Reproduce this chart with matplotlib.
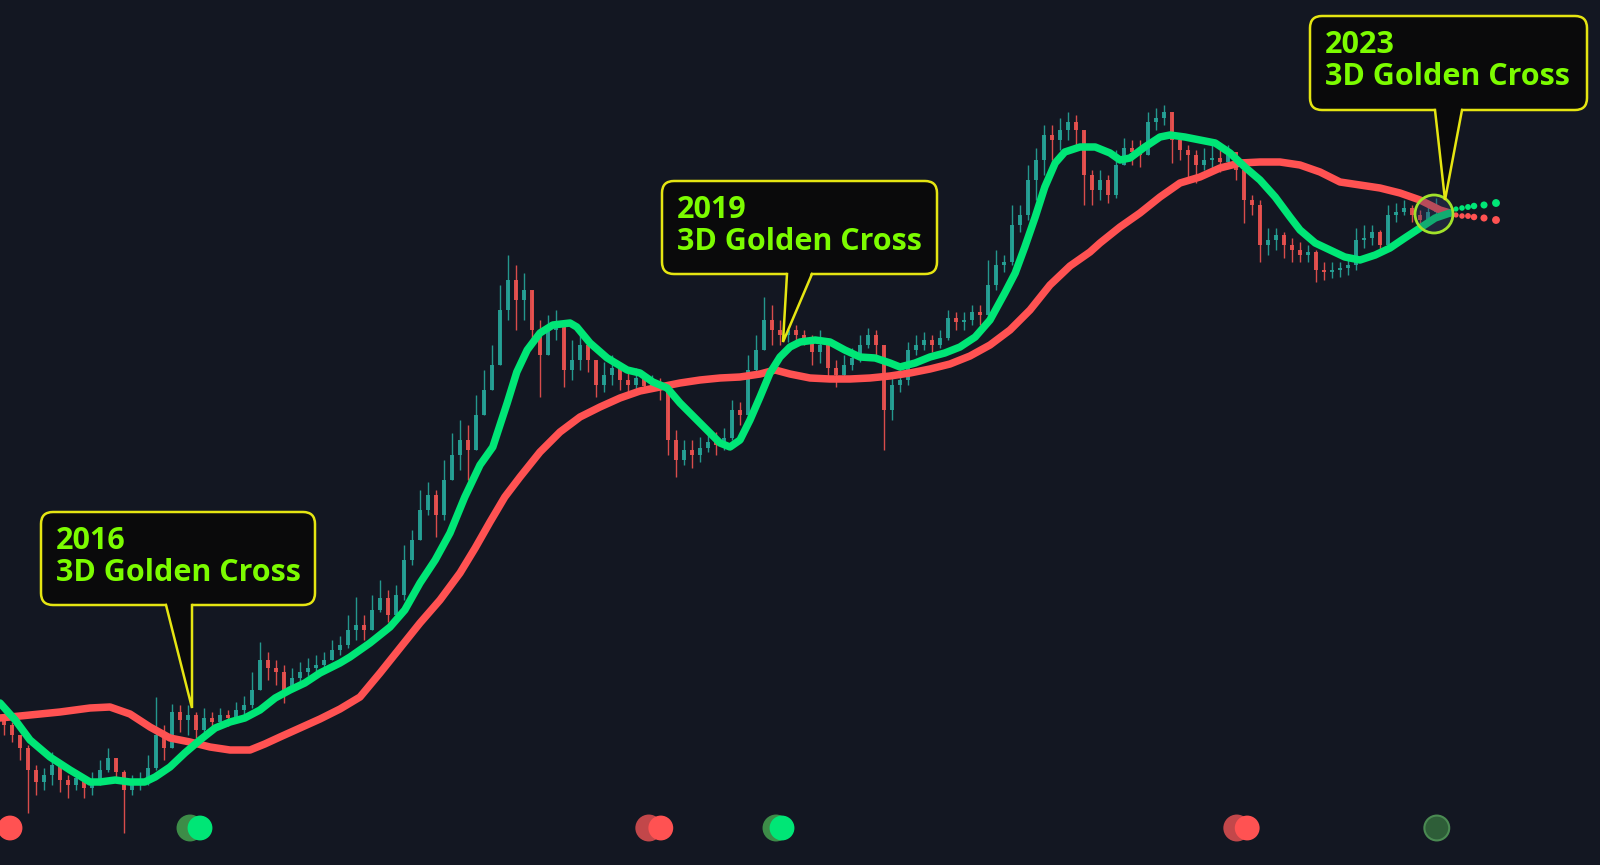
import numpy as np
import matplotlib
matplotlib.use("Agg")
import matplotlib.pyplot as plt
from matplotlib.patches import FancyBboxPatch, Polygon, Circle

# 3-day candles, values in chart level units (smaller = higher on screen)
first_open = 720
close_lvl = [
    725, 735, 748, 770, 782, 775, 765, 780, 785, 778,
    788, 782, 770, 758, 772, 790, 783, 780, 768, 735,
    748, 712, 720, 715, 730, 718, 722, 715, 718, 710,
    705, 690, 660, 668, 672, 690, 678, 672, 668, 665,
    660, 650, 645, 630, 625, 630, 610, 598, 615, 595,
    560, 540, 510, 495, 515, 480, 455, 440, 450, 415,
    390, 365, 310, 280, 300, 290, 330, 355, 330, 325,
    370, 360, 345, 360, 385, 375, 368, 380, 385, 378,
    386, 383, 390, 440, 460, 450, 455, 448, 442, 445,
    438, 410, 415, 370, 350, 320, 330, 335, 330, 335,
    338, 352, 345, 368, 375, 365, 358, 345, 335, 345,
    410, 385, 380, 350, 345, 340, 345, 338, 318, 322,
    320, 312, 315, 285, 265, 262, 225, 215, 180, 160,
    135, 140, 130, 122, 130, 175, 190, 180, 195, 165,
    148, 152, 155, 122, 118, 112, 140, 150, 155, 165,
    160, 158, 162, 152, 170, 200, 205, 245, 240, 235,
    245, 250, 255, 252, 270, 272, 270, 268, 265, 240,
    238, 232, 245, 215, 212, 208, 215, 220, 212, 205,
]
high_lvl = [
    715, 722, 738, 745, 765, 768, 752, 768, 775, 770,
    778, 772, 760, 748, 760, 770, 775, 772, 755, 697,
    725, 704, 705, 705, 712, 708, 712, 708, 710, 702,
    696, 672, 642, 652, 660, 665, 668, 662, 658, 655,
    652, 640, 636, 615, 597, 615, 595, 580, 590, 585,
    545, 530, 490, 482, 490, 460, 433, 420, 425, 395,
    370, 345, 285, 255, 265, 273, 290, 320, 315, 310,
    325, 340, 330, 338, 360, 362, 355, 365, 370, 368,
    375, 375, 378, 388, 430, 440, 440, 437, 432, 432,
    428, 400, 402, 355, 335, 297, 305, 320, 322, 325,
    330, 335, 330, 340, 360, 355, 348, 335, 328, 330,
    345, 375, 365, 342, 335, 332, 335, 330, 310, 312,
    312, 305, 305, 260, 250, 255, 205, 205, 165, 148,
    125, 125, 118, 112, 115, 135, 170, 170, 175, 150,
    138, 140, 140, 112, 108, 105, 115, 138, 145, 150,
    148, 145, 150, 145, 152, 168, 195, 200, 228, 228,
    232, 238, 242, 245, 250, 262, 262, 262, 258, 228,
    225, 225, 230, 205, 203, 200, 205, 210, 205, 198,
]
low_lvl = [
    735, 742, 760, 813, 795, 790, 785, 792, 798, 790,
    798, 795, 785, 772, 782, 833, 795, 790, 785, 770,
    760, 740, 732, 735, 738, 732, 730, 725, 726, 720,
    715, 708, 690, 680, 685, 703, 690, 682, 676, 672,
    668, 660, 655, 648, 640, 640, 625, 612, 622, 610,
    600, 565, 535, 515, 537, 520, 475, 470, 480, 440,
    410, 390, 350, 320, 330, 320, 345, 397, 350, 340,
    387, 380, 370, 372, 397, 392, 385, 390, 395, 392,
    392, 390, 400, 455, 477, 465, 468, 462, 452, 455,
    450, 440, 425, 418, 372, 345, 345, 345, 342, 345,
    345, 365, 363, 380, 387, 378, 370, 362, 348, 355,
    450, 420, 392, 385, 355, 350, 352, 348, 340, 330,
    330, 325, 325, 320, 290, 272, 265, 232, 220, 200,
    175, 160, 150, 140, 145, 205, 205, 200, 203, 198,
    160, 165, 167, 155, 130, 125, 163, 160, 178, 183,
    170, 170, 172, 165, 180, 223, 215, 262, 255, 250,
    258, 262, 262, 262, 282, 280, 278, 277, 275, 270,
    248, 245, 255, 250, 222, 215, 222, 226, 222, 215,
]

# fast (green) and slow (red) moving averages, sampled by candle index
fast_t = [-0.5, 1.4, 3.25, 5.75, 8.25, 10.75, 12, 13.9, 15.75, 17.6, 18.9, 20.75,
          22.6, 24.5, 26.4, 28.25, 30.1, 32, 33.9, 35.75, 37.6, 39.5, 42, 43.25,
          45.75, 48.25, 50.1, 52, 53.9, 55.75, 57.6, 59.5, 61.1, 62, 62.9, 64.1,
          65.4, 67, 68.6, 70.75, 71.6, 73.25, 75.4, 77.9, 79.5, 81.1, 82.9, 84.5,
          87, 89.5, 90.75, 92, 93.25, 94.5, 95.75, 97, 98.25, 99.5, 101.4, 103.25,
          105.1, 107, 108.9, 110.75, 112, 113.9, 115.75, 117.6, 119.5, 121.4,
          123.25, 125.1, 126.4, 127.6, 128.9, 130.1, 131.4, 132.6, 134.5, 136.4,
          138.25, 139.5, 140.75, 142.6, 144.5, 145.75, 147.6, 149.5, 151.4, 153.25,
          155.1, 157, 158.9, 160.75, 162, 163.9, 165.75, 167.6, 169.5, 171.4,
          173.25, 175.1, 177, 178.9, 180.75]
fast_ma = [703, 720, 740, 757, 770, 782, 782, 780, 782, 782, 777, 767,
           753, 740, 728, 722, 718, 710, 698, 690, 683, 673, 663, 657,
           643, 627, 610, 583, 560, 533, 497, 465, 447, 425, 403, 372,
           350, 333, 325, 323, 327, 343, 358, 370, 373, 382, 388, 403,
           423, 443, 447, 440, 420, 397, 373, 357, 347, 342, 340, 342,
           350, 357, 358, 363, 367, 363, 357, 353, 347, 337,
           320, 293, 273, 247, 217, 187, 163, 152, 147, 147,
           153, 160, 158, 147, 137, 135, 137, 140, 143, 153,
           167, 180, 197, 217, 230, 243, 250, 257, 260, 255,
           248, 238, 228, 218, 213]

slow_t = [-0.5, 3.25, 7, 10.75, 13.25, 15.75, 18.25, 20.75, 23.25, 25.75,
          28.25, 30.75, 32.6, 34.5, 37, 39.5, 42, 44.5, 47, 49.5,
          52, 54.5, 57, 58.9, 60.75, 62.6, 64.5, 67, 69.5, 72,
          74.5, 77, 79.5, 82, 84.5, 87, 89.5, 92, 94.5, 96.4,
          98.25, 100.75, 103.25, 105.75, 108.25, 110.75, 113.25, 115.75, 118.25, 120.75,
          123.25, 125.75, 128.25, 130.75, 133.25, 135.75, 137, 139.5, 142, 144.5,
          147, 149.5, 152, 154.5, 157, 159.5, 162, 164.5, 167, 169.5,
          172, 174.5, 177, 179.5, 180.75]
slow_ma = [718, 715, 712, 708, 707, 714, 727, 738, 742, 747,
           750, 750, 744, 737, 728, 719, 709, 697, 673, 648,
           623, 600, 573, 548, 522, 497, 477, 452, 432, 417,
           407, 398, 391, 387, 383, 380, 378, 377, 374, 370,
           374, 378, 379, 379, 378, 376, 373, 369, 364, 356,
           345, 330, 310, 285, 266, 252, 243, 227, 213, 197,
           183, 177, 168, 163, 162, 162, 165, 172, 182, 185,
           188, 193, 200, 210, 213]

# projected averages (dotted continuation)
proj_t = [181.5, 182.25, 183, 183.75, 185, 186.5]
fast_proj = [209, 208, 207, 206, 205, 203]
slow_proj = [215, 216, 216, 217, 218, 220]

# signal dots along the bottom
signal_fade_t = [23.25, 80.6, 96.5, 154.1, 179.1]
signal_fade_kind = ["bull", "bear", "bull", "bear", "bull_dim"]
signal_t = [0.75, 24.5, 82.1, 97.25, 155.4]
signal_kind = ["bear", "bull", "bear", "bull", "bear"]

years = ["2016", "2019", "2023"]
label_text = "3D Golden Cross"

BG = "#131722"
UP = "#26a69a"
DOWN = "#ef5350"
GREEN = "#00e676"
RED = "#ff5252"
YELLOW = "#e5e512"
LIME = "#7cfc00"

fig = plt.figure(figsize=(16, 8.65), dpi=100, facecolor=BG)
ax = fig.add_axes([0, 0, 1, 1], facecolor=BG)
ax.set_xlim(-0.5, 199.5)
ax.set_ylim(865, 0)
ax.axis("off")

# candles
closes = np.array(close_lvl, dtype=float)
opens = np.concatenate([[first_open], closes[:-1]])
highs = np.minimum(np.array(high_lvl, dtype=float), np.minimum(opens, closes))
lows = np.maximum(np.array(low_lvl, dtype=float), np.maximum(opens, closes))
idx = np.arange(len(closes))
up = closes <= opens
colors = np.where(up, UP, DOWN)
ax.vlines(idx, highs, lows, colors=colors, linewidth=1.0, alpha=0.9, zorder=2)
body_top = np.minimum(opens, closes)
body_h = np.maximum(np.abs(closes - opens), 1.5)
ax.bar(idx, body_h, bottom=body_top, width=0.45, color=colors, alpha=0.9,
       linewidth=0, zorder=2)

# moving averages
ax.plot(slow_t, slow_ma, color=RED, lw=5.4, solid_capstyle="round",
        solid_joinstyle="round", zorder=3)
ax.plot(fast_t, fast_ma, color=GREEN, lw=5.4, solid_capstyle="round",
        solid_joinstyle="round", zorder=4)
dot_sizes = [14, 16, 18, 22, 26, 32]
ax.scatter(proj_t, fast_proj, s=dot_sizes, color=GREEN, linewidths=0, zorder=4)
ax.scatter(proj_t, slow_proj, s=dot_sizes, color=RED, linewidths=0, zorder=4)

# signal dots
fade_colors = {"bull": "#3d8c48", "bear": "#c2474a", "bull_dim": "#2e5e38"}
fade_edges = {"bull": "#3d8c48", "bear": "#c2474a", "bull_dim": "#4a8a52"}
bright_colors = {"bull": GREEN, "bear": RED}
sig_y = 828
ax.scatter(signal_fade_t, [sig_y] * len(signal_fade_t), s=320,
           c=[fade_colors[k] for k in signal_fade_kind],
           edgecolors=[fade_edges[k] for k in signal_fade_kind],
           linewidths=1.5, zorder=5)
ax.scatter(signal_t, [sig_y] * len(signal_t), s=320,
           c=[bright_colors[k] for k in signal_kind], linewidths=0, zorder=6)

# annotation overlay in pixel space
ov = fig.add_axes([0, 0, 1, 1], facecolor="none")
ov.set_xlim(0, 1600)
ov.set_ylim(865, 0)
ov.axis("off")

boxes = [(41, 512, 315, 605), (662, 181, 937, 274), (1310, 16, 1587, 110)]
bases = [(166, 192), (787, 812), (1435, 1462)]
tips = [(192, 708), (783, 342), (1445, 200)]

ov.add_patch(Circle((1434, 214), 19, facecolor="#33406a", alpha=0.35,
                    edgecolor="none", zorder=7))
ov.add_patch(Circle((1434, 214), 19, facecolor="none", edgecolor="#a2e22a",
                    lw=2.0, zorder=8))

for year, (x0, y0, x1, y1), (bx0, bx1), (tx, ty) in zip(years, boxes, bases, tips):
    ov.add_patch(FancyBboxPatch((x0, y0), x1 - x0, y1 - y0,
                                boxstyle="round,pad=0,rounding_size=12",
                                facecolor="#0a0a0b", edgecolor=YELLOW,
                                lw=1.8, zorder=9))
    ov.add_patch(Polygon([(bx0, y1 - 4), (tx, ty), (bx1, y1 - 4)], closed=True,
                         facecolor="#0a0a0b", edgecolor="none", zorder=10))
    ov.plot([bx0, tx, bx1], [y1, ty, y1], color=YELLOW, lw=1.8,
            solid_joinstyle="miter", zorder=11)
    ov.text(x0 + 15, y0 + 29, year, color=LIME, fontsize=22,
            fontweight="bold", family="Open Sans", va="center", ha="left", zorder=12)
    ov.text(x0 + 15, y0 + 61, label_text, color=LIME, fontsize=22,
            fontweight="bold", family="Open Sans", va="center", ha="left", zorder=12)

fig.savefig("out.png", dpi=100, facecolor=BG)
